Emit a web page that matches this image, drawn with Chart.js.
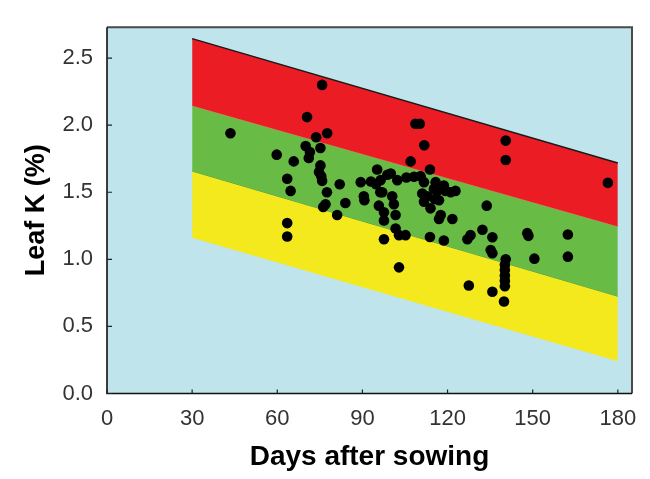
<!DOCTYPE html>
<html>
<head>
<meta charset="utf-8">
<script src="https://cdn.jsdelivr.net/npm/chart.js@4.4.1/dist/chart.umd.min.js"></script>
<style>
  html, body { margin: 0; padding: 0; background: #ffffff; }
  #wrap { width: 650px; height: 479px; }
</style>
</head>
<body>
<div id="wrap"><canvas id="c" width="650" height="479"></canvas></div>
<script>
// ---- Data ----
const xTickValues = [0, 30, 60, 90, 120, 150, 180];
const yTickValues = [0, 0.5, 1.0, 1.5, 2.0, 2.5];

// sufficiency bands (days 30 -> 180)
const bandDays = [30, 180];
const redUpper = [2.645, 1.718];
const redGreenLimit = [2.145, 1.245];
const greenYellowLimit = [1.658, 0.725];
const yellowLower = [1.161, 0.24];

// observed leaf K (%) vs days after sowing
const obsDays = [
  43.5, 59.8, 63.5, 64.7, 63.5, 63.5, 65.8, 70.5, 70.0, 71.5,
  71.1, 73.7, 75.2, 75.8, 77.6, 75.2, 74.7, 75.5, 75.8, 77.5,
  77.0, 76.2, 81.1, 82.0, 84.0, 89.4, 90.5, 90.7, 95.2, 96.4,
  94.8, 96.3, 95.8, 97.6, 97.6, 97.6, 98.8, 100.0, 100.5, 101.1,
  101.7, 101.7, 102.3, 102.9, 105.2, 102.9, 105.5, 107.0, 108.2, 108.7,
  110.2, 111.8, 110.5, 111.7, 113.8, 111.1, 111.7, 114.0, 115.5, 117.0,
  115.8, 115.2, 116.4, 118.7, 119.3, 121.1, 122.8, 117.6, 117.0, 121.7,
  113.8, 118.7, 127.0, 128.1, 127.5, 132.3, 133.8, 135.8, 135.2, 135.8,
  135.8, 140.5, 140.5, 140.5, 140.2, 140.2, 140.2, 140.2, 140.2, 139.9,
  148.1, 148.5, 150.6, 162.4, 162.4, 176.5, 112.8, 97.0, 93.0
];
const obsK = [
  1.94, 1.78, 1.60, 1.51, 1.27, 1.17, 1.73, 2.06, 1.845, 1.80,
  1.755, 1.91, 1.83, 2.30, 1.94, 1.70, 1.65, 1.62, 1.585, 1.50,
  1.41, 1.39, 1.33, 1.56, 1.42, 1.575, 1.47, 1.44, 1.67, 1.59,
  1.56, 1.50, 1.40, 1.35, 1.29, 1.15, 1.63, 1.64, 1.47, 1.41,
  1.33, 1.23, 1.59, 1.18, 1.18, 0.94, 1.61, 1.73, 1.615, 2.01,
  2.01, 1.85, 1.62, 1.575, 1.67, 1.49, 1.43, 1.38, 1.45, 1.44,
  1.575, 1.525, 1.51, 1.55, 1.51, 1.50, 1.51, 1.33, 1.30, 1.30,
  1.166, 1.14, 1.15, 1.18, 0.805, 1.22, 1.40, 1.165, 1.07, 1.045,
  0.758, 1.885, 1.74, 1.00, 0.96, 0.92, 0.88, 0.84, 0.80, 0.686,
  1.195, 1.175, 1.005, 1.185, 1.02, 1.57, 1.47, 1.50, 1.58
];

const xTitle = 'Days after sowing';
const yTitle = 'Leaf K (%)';

// ---- Helpers ----
function bandLine(vals) {
  return bandDays.map((d, i) => ({ x: d, y: vals[i] }));
}
const points = obsDays.map((d, i) => ({ x: d, y: obsK[i] }));

const frameColor = '#3c3c3c';
const plotFrame = {
  id: 'plotFrame',
  beforeDraw(chart) {
    const { ctx, chartArea: a } = chart;
    ctx.save();
    ctx.fillStyle = '#bfe4ec';
    ctx.fillRect(a.left, a.top, a.right - a.left, a.bottom - a.top);
    ctx.restore();
  },
  afterDraw(chart) {
    const { ctx, chartArea: a, scales } = chart;
    ctx.save();
    // top and right frame (dark grey)
    ctx.strokeStyle = '#4a4a4a';
    ctx.lineWidth = 2;
    ctx.beginPath();
    ctx.moveTo(a.left, a.top);
    ctx.lineTo(a.right, a.top);
    ctx.lineTo(a.right, a.bottom);
    ctx.stroke();
    // left and bottom axes
    ctx.strokeStyle = '#111';
    ctx.lineWidth = 1.6;
    ctx.beginPath();
    ctx.moveTo(a.left, a.top);
    ctx.lineTo(a.left, a.bottom);
    ctx.lineTo(a.right, a.bottom);
    ctx.stroke();
    // inward ticks
    ctx.lineWidth = 1.2;
    ctx.strokeStyle = '#222';
    ctx.beginPath();
    scales.x.ticks.forEach(t => {
      const px = scales.x.getPixelForValue(t.value);
      ctx.moveTo(px, a.bottom);
      ctx.lineTo(px, a.bottom - 4);
    });
    scales.y.ticks.forEach(t => {
      const py = scales.y.getPixelForValue(t.value);
      ctx.moveTo(a.left, py);
      ctx.lineTo(a.left + 5, py);
    });
    ctx.stroke();
    ctx.restore();
  }
};

const tickFont = { family: '"Liberation Sans", Arial, sans-serif', size: 22 };
const titleFontX = { family: '"Liberation Sans", Arial, sans-serif', size: 28, weight: 'bold' };
const titleFontY = { family: '"Liberation Sans", Arial, sans-serif', size: 27, weight: 'bold' };

new Chart(document.getElementById('c'), {
  type: 'scatter',
  data: {
    datasets: [
      {
        type: 'scatter',
        data: points,
        backgroundColor: '#000000',
        borderWidth: 0,
        pointRadius: 5.3,
        order: 0
      },
      {
        type: 'line',
        data: bandLine(redUpper),
        borderColor: '#1a1a1a',
        borderWidth: 1.5,
        backgroundColor: '#ec1c24',
        fill: '+1',
        pointRadius: 0,
        order: 1
      },
      {
        type: 'line',
        data: bandLine(redGreenLimit),
        borderColor: '#e07a5a',
        borderWidth: 0.8,
        backgroundColor: '#68bc45',
        fill: '+1',
        pointRadius: 0,
        order: 1
      },
      {
        type: 'line',
        data: bandLine(greenYellowLimit),
        borderColor: '#2f8a3a',
        borderWidth: 0.8,
        backgroundColor: '#f4e91c',
        fill: '+1',
        pointRadius: 0,
        order: 1
      },
      {
        type: 'line',
        data: bandLine(yellowLower),
        borderColor: 'rgba(0,0,0,0)',
        borderWidth: 0,
        fill: false,
        pointRadius: 0,
        order: 1
      }
    ]
  },
  options: {
    responsive: false,
    animation: false,
    layout: { padding: { top: 15, right: 18, left: 0, bottom: 0 } },
    plugins: {
      legend: { display: false },
      tooltip: { enabled: false }
    },
    scales: {
      x: {
        type: 'linear',
        min: 0,
        max: 185,
        grid: { display: false, drawTicks: false },
        border: { display: false },
        afterBuildTicks: s => { s.ticks = xTickValues.map(v => ({ value: v })); },
        afterFit: s => { s.height = 85.5; },
        ticks: {
          autoSkip: false,
          maxRotation: 0,
          padding: 12,
          color: '#333333',
          font: tickFont,
          callback: v => String(v)
        },
        title: {
          display: true,
          text: xTitle,
          color: '#000000',
          font: titleFontX,
          padding: { top: 0, bottom: 5 }
        }
      },
      y: {
        type: 'linear',
        min: 0,
        max: 2.73,
        grid: { display: false, drawTicks: false },
        border: { display: false },
        afterBuildTicks: s => { s.ticks = yTickValues.map(v => ({ value: v })); },
        afterFit: s => { s.width = 107; },
        ticks: {
          autoSkip: false,
          padding: 14,
          color: '#333333',
          font: tickFont,
          callback: v => Number(v).toFixed(1)
        },
        title: {
          display: true,
          text: yTitle,
          color: '#000000',
          font: titleFontY,
          padding: { top: 20, bottom: 0 }
        }
      }
    }
  },
  plugins: [plotFrame]
});
</script>
</body>
</html>
